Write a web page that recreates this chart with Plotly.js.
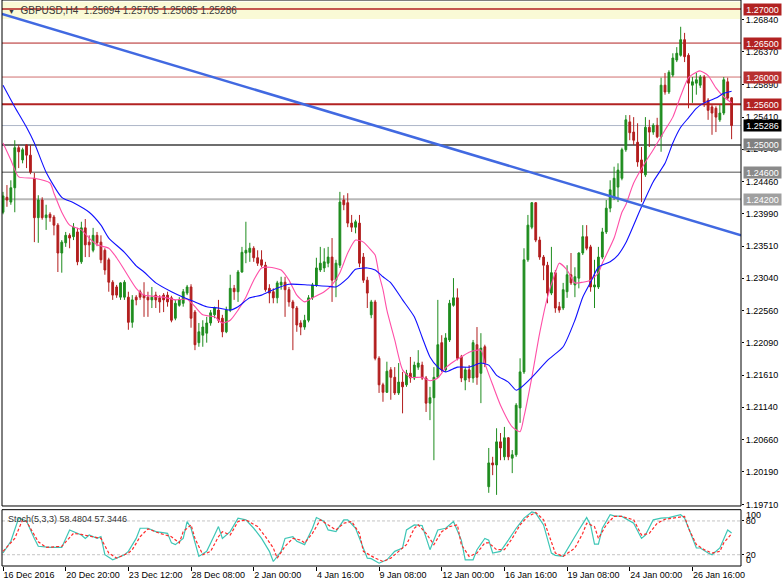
<!DOCTYPE html>
<html><head><meta charset="utf-8">
<script src="https://cdn.plot.ly/plotly-3.0.1.min.js"></script>
<style>html,body{margin:0;padding:0;background:#fff;overflow:hidden}#chart{width:782px;height:587px}</style>
</head><body><div id="chart"></div>
<script>
// ---------- DATA (GBPUSD, H4) ----------
const openP = [
1.2401,1.2423,1.2416,1.2437,1.2496,1.2478,1.2500,1.2485,1.2451,1.2393,
1.2419,1.2393,1.2398,1.2394,1.2382,1.2341,1.2356,1.2367,1.2365,1.2372,
1.2328,1.2378,1.2357,1.2345,1.2367,1.2357,1.2345,1.2331,1.2298,1.2291,
1.2276,1.2276,1.2276,1.2239,1.2276,1.2284,1.2279,1.2276,1.2272,1.2279,
1.2275,1.2279,1.2279,1.2275,1.2245,1.2264,1.2267,1.2282,1.2291,1.2254,
1.2209,1.2220,1.2223,1.2238,1.2250,1.2257,1.2245,1.2225,1.2257,1.2289,
1.2284,1.2313,1.2341,1.2342,1.2348,1.2334,1.2331,1.2323,1.2289,1.2284,
1.2275,1.2294,1.2298,1.2287,1.2269,1.2260,1.2238,1.2232,1.2242,1.2275,
1.2294,1.2316,1.2319,1.2326,1.2335,1.2301,1.2323,1.2419,1.2415,1.2385,
1.2379,1.2385,1.2335,1.2301,1.2250,1.2269,1.2186,1.2147,1.2136,1.2169,
1.2158,1.2135,1.2151,1.2147,1.2164,1.2157,1.2173,1.2176,1.2157,1.2120,
1.2128,1.2158,1.2209,1.2169,1.2213,1.2264,1.2275,1.2188,1.2154,1.2169,
1.2157,1.2206,1.2164,1.2203,1.1997,1.2032,1.2029,1.2063,1.2041,1.2069,
1.2039,1.2044,1.2113,1.2166,1.2331,1.2379,1.2415,1.2360,1.2335,1.2323,
1.2282,1.2312,1.2262,1.2260,1.2284,1.2309,1.2294,1.2304,1.2341,1.2365,
1.2350,1.2291,1.2291,1.2335,1.2372,1.2407,1.2423,1.2438,1.2451,1.2493,
1.2534,1.2519,1.2504,1.2478,1.2456,1.2526,1.2519,1.2529,1.2512,1.2588,
1.2578,1.2603,1.2625,1.2632,1.2655,1.2632,1.2588,1.2591,1.2588,1.2600,
1.2566,1.2556,1.2554,1.2537,1.2547,1.2593,1.25694];
const highP = [
1.2431,1.2441,1.2448,1.2507,1.2500,1.2496,1.2501,1.2500,1.2459,1.2426,
1.2423,1.2412,1.2401,1.2397,1.2385,1.2360,1.2372,1.2370,1.2385,1.2378,
1.2387,1.2391,1.2367,1.2378,1.2372,1.2367,1.2348,1.2334,1.2301,1.2294,
1.2298,1.2301,1.2284,1.2279,1.2279,1.2287,1.2298,1.2284,1.2291,1.2284,
1.2279,1.2282,1.2284,1.2278,1.2272,1.2276,1.2288,1.2294,1.2295,1.2257,
1.2238,1.2242,1.2247,1.2257,1.2262,1.2272,1.2250,1.2262,1.2309,1.2294,
1.2316,1.2350,1.2387,1.2356,1.2351,1.2345,1.2345,1.2328,1.2295,1.2289,
1.2300,1.2306,1.2306,1.2291,1.2272,1.2263,1.2242,1.2250,1.2279,1.2297,
1.2334,1.2350,1.2348,1.2350,1.2363,1.2331,1.2431,1.2426,1.2429,1.2397,
1.2390,1.2397,1.2341,1.2306,1.2272,1.2272,1.2189,1.2150,1.2181,1.2173,
1.2173,1.2179,1.2166,1.2169,1.2188,1.2181,1.2198,1.2181,1.2160,1.2144,
1.2173,1.2272,1.2220,1.2223,1.2272,1.2304,1.2289,1.2191,1.2173,1.2176,
1.2213,1.2232,1.2223,1.2206,1.2054,1.2041,1.2083,1.2076,1.2085,1.2070,
1.2051,1.2120,1.2186,1.2348,1.2397,1.2416,1.2416,1.2365,1.2338,1.2328,
1.2350,1.2316,1.2269,1.2297,1.2323,1.2341,1.2320,1.2342,1.2382,1.2382,
1.2353,1.2331,1.2350,1.2378,1.2419,1.2448,1.2468,1.2473,1.2496,1.2544,
1.2544,1.2541,1.2532,1.2497,1.2541,1.2537,1.2532,1.2540,1.2599,1.2606,
1.2610,1.2635,1.2644,1.2674,1.2665,1.2635,1.2600,1.2606,1.2603,1.2603,
1.2569,1.2559,1.2557,1.2559,1.2600,1.2599,1.25705];
const lowP = [
1.2398,1.2409,1.2412,1.2401,1.2466,1.2473,1.2466,1.2457,1.2357,1.2356,
1.2390,1.2375,1.2387,1.2367,1.2313,1.2312,1.2350,1.2348,1.2360,1.2323,
1.2325,1.2335,1.2335,1.2342,1.2351,1.2326,1.2309,1.2284,1.2272,1.2275,
1.2272,1.2272,1.2228,1.2231,1.2264,1.2272,1.2247,1.2247,1.2260,1.2260,
1.2253,1.2254,1.2262,1.2239,1.2242,1.2262,1.2262,1.2279,1.2231,1.2198,
1.2203,1.2203,1.2209,1.2234,1.2245,1.2238,1.2217,1.2223,1.2254,1.2272,
1.2269,1.2312,1.2326,1.2328,1.2328,1.2322,1.2320,1.2284,1.2267,1.2267,
1.2267,1.2287,1.2247,1.2262,1.2198,1.2225,1.2220,1.2228,1.2239,1.2272,
1.2291,1.2313,1.2313,1.2320,1.2269,1.2276,1.2319,1.2404,1.2379,1.2372,
1.2370,1.2320,1.2297,1.2260,1.2245,1.2183,1.2135,1.2122,1.2135,1.2125,
1.2132,1.2132,1.2105,1.2144,1.2150,1.2154,1.2169,1.2154,1.2107,1.2095,
1.2036,1.2157,1.2166,1.2166,1.2210,1.2262,1.2183,1.2151,1.2139,1.2151,
1.2150,1.2147,1.2120,1.2173,1.1988,1.2014,1.1985,1.2036,1.2036,1.2036,
1.2017,1.2041,1.2091,1.2163,1.2328,1.2376,1.2357,1.2331,1.2301,1.2267,
1.2279,1.2253,1.2253,1.2257,1.2275,1.2294,1.2276,1.2289,1.2338,1.2345,
1.2284,1.2260,1.2288,1.2332,1.2369,1.2401,1.2419,1.2416,1.2448,1.2490,
1.2507,1.2500,1.2468,1.2416,1.2453,1.2497,1.2515,1.2510,1.2490,1.2574,
1.2575,1.2600,1.2622,1.2630,1.2622,1.2554,1.2562,1.2574,1.2584,1.2556,
1.2537,1.2515,1.2519,1.2534,1.2544,1.2566,1.25085];
const closeP = [
1.2425,1.2419,1.2437,1.2496,1.2490,1.2493,1.2485,1.2460,1.2393,1.2419,
1.2393,1.2397,1.2393,1.2382,1.2341,1.2357,1.2367,1.2363,1.2379,1.2328,
1.2378,1.2353,1.2353,1.2367,1.2356,1.2331,1.2316,1.2298,1.2279,1.2279,
1.2297,1.2298,1.2239,1.2272,1.2272,1.2276,1.2275,1.2272,1.2276,1.2272,
1.2269,1.2272,1.2269,1.2242,1.2267,1.2272,1.2284,1.2291,1.2245,1.2206,
1.2225,1.2232,1.2238,1.2253,1.2260,1.2242,1.2225,1.2257,1.2289,1.2284,
1.2313,1.2342,1.2345,1.2348,1.2334,1.2326,1.2323,1.2287,1.2282,1.2275,
1.2297,1.2298,1.2287,1.2269,1.2260,1.2235,1.2232,1.2242,1.2275,1.2294,
1.2319,1.2326,1.2328,1.2335,1.2301,1.2326,1.2416,1.2412,1.2385,1.2379,
1.2387,1.2326,1.2301,1.2282,1.2269,1.2186,1.2147,1.2136,1.2167,1.2158,
1.2135,1.2151,1.2144,1.2164,1.2157,1.2176,1.2179,1.2157,1.2120,1.2128,
1.2158,1.2206,1.2169,1.2216,1.2267,1.2275,1.2186,1.2157,1.2169,1.2157,
1.2209,1.2158,1.2201,1.2179,1.2032,1.2029,1.2063,1.2054,1.2069,1.2041,
1.2044,1.2117,1.2166,1.2331,1.2382,1.2415,1.2360,1.2335,1.2323,1.2282,
1.2312,1.2260,1.2257,1.2287,1.2309,1.2297,1.2306,1.2341,1.2365,1.2348,
1.2291,1.2294,1.2335,1.2372,1.2407,1.2434,1.2451,1.2463,1.2493,1.2537,
1.2518,1.2507,1.2475,1.2459,1.2526,1.2519,1.2529,1.2512,1.2588,1.2578,
1.2607,1.2628,1.2635,1.2655,1.2630,1.2591,1.2593,1.2596,1.2600,1.2563,
1.2551,1.2547,1.2541,1.2547,1.2596,1.2569,1.25286];

// Moving averages (bar number, price)
const fastMaBar = [0,2,4,8,12,13,15,17,20,22,24,27,29,31,34,36,41,44,47,49,51,54,56,58,60,62,64,66,68,71,73,75,77,79,82,84,86,88,90,92,94,95,96,97,98,100,102,104,107,109,111,113,115,117,119,122,123,125,127,130,132,133,135,137,139,141,142,144,146,148,150,152,153,154,156,158,159,161,164,166,169,171,173,175,177,178,180,182,184,186];
const fastMa = [1.2503,1.2478,1.2453,1.2451,1.2444,1.2429,1.2401,1.2382,1.2375,1.2363,1.2353,1.2348,1.2334,1.2316,1.2289,1.2279,1.2276,1.2272,1.2273,1.2262,1.2250,1.2247,1.2238,1.2242,1.2257,1.2276,1.2301,1.2319,1.2320,1.2316,1.2301,1.2279,1.2269,1.2275,1.2284,1.2294,1.2312,1.2341,1.2360,1.2357,1.2345,1.2338,1.2309,1.2287,1.2257,1.2213,1.2169,1.2158,1.2158,1.2153,1.2157,1.2172,1.2181,1.2188,1.2195,1.2198,1.2179,1.2147,1.2117,1.2085,1.2078,1.2100,1.2158,1.2223,1.2276,1.2312,1.2326,1.2316,1.2297,1.2298,1.2301,1.2312,1.2326,1.2338,1.2363,1.2401,1.2412,1.2444,1.2475,1.2493,1.2522,1.2541,1.2572,1.2599,1.2607,1.2609,1.2602,1.2584,1.2571,1.2562];
const slowMaBar = [0,3,6,8,11,15,18,22,25,27,31,34,36,39,43,46,49,52,55,58,60,63,66,69,73,78,83,85,88,90,93,95,97,99,102,105,107,109,111,113,116,119,122,124,126,129,131,132,135,139,143,146,148,150,152,155,157,159,163,166,169,171,173,175,177,179,182,184,186];
const slowMa = [1.2588,1.2556,1.2526,1.2503,1.2460,1.2423,1.2415,1.2401,1.2382,1.2363,1.2342,1.2322,1.2313,1.2297,1.2284,1.2276,1.2269,1.2262,1.2260,1.2257,1.2262,1.2275,1.2279,1.2287,1.2295,1.2294,1.2292,1.2291,1.2304,1.2317,1.2319,1.2316,1.2306,1.2297,1.2272,1.2247,1.2217,1.2188,1.2173,1.2166,1.2173,1.2173,1.2179,1.2176,1.2161,1.2151,1.2139,1.2142,1.2158,1.2183,1.2203,1.2242,1.2276,1.2298,1.2320,1.2328,1.2338,1.2356,1.2409,1.2446,1.2473,1.2503,1.2526,1.2540,1.2554,1.2562,1.2569,1.2576,1.2579];

// Stochastic(5,3,3)
const stochKBar = [0,2,4,6,8,9,12,15,17,19,20,21,22,24,25,26,28,31,32,34,35,37,39,42,43,44,46,47,48,50,52,54,55,56,58,60,62,64,66,68,69,71,72,74,75,77,79,80,82,83,85,87,88,90,92,93,94,96,98,100,102,103,105,107,109,111,113,115,117,118,120,121,123,124,125,127,129,131,133,135,136,138,140,141,143,145,147,149,150,151,152,153,155,156,158,161,163,164,166,168,170,173,174,177,178,180,181,183,185,186];
const stochK = [23,44,85,80,49,35,33,33,64,58,55,49,55,49,52,20,11,20,26,49,67,67,61,58,41,38,49,79,67,17,26,55,70,49,61,85,82,67,49,26,8,26,49,52,44,38,67,86,79,64,61,82,82,67,30,14,13,5,11,26,32,64,73,72,29,64,67,79,46,11,11,29,49,46,23,26,46,67,85,96,94,73,23,19,17,41,64,86,73,39,39,67,91,89,88,76,49,55,82,85,86,91,85,32,32,23,20,32,64,58.48];
const stochDBar = [0,3,5,6,9,11,15,18,20,23,25,27,29,32,33,35,37,40,43,45,46,48,49,51,53,55,56,58,60,62,65,67,69,70,72,74,76,77,79,81,83,85,87,89,91,92,95,97,99,101,103,105,106,108,110,112,114,116,117,119,121,123,124,126,128,130,132,134,136,138,140,141,143,146,148,149,151,152,154,156,158,161,163,165,167,169,172,174,175,177,179,181,183,184,186];
const stochD = [26,49,82,79,43,33,35,58,56,52,49,23,14,23,29,52,66,58,52,41,61,73,49,20,26,52,61,55,79,82,70,52,32,14,35,49,46,41,58,82,73,64,76,79,58,26,14,8,14,26,38,67,73,58,38,61,70,73,38,17,23,41,41,29,29,49,73,88,95,82,43,23,17,32,58,76,70,49,73,88,88,82,55,58,76,83,86,88,67,38,29,23,26,41,57.34];

// Axis labels
const xTickBars = [0,16,32,48,64,80,96,112,128,144,160,176];
const xTickLabels = ['16 Dec 2016','20 Dec 20:00','23 Dec 12:00','28 Dec 08:00','2 Jan 00:00','4 Jan 16:00','9 Jan 08:00','12 Jan 00:00','16 Jan 16:00','19 Jan 08:00','24 Jan 00:00','26 Jan 16:00'];
const yTickVals = [1.26840,1.26370,1.25890,1.25410,1.24940,1.24460,1.23990,1.23510,1.23040,1.22560,1.22090,1.21610,1.21140,1.20660,1.20190,1.19710];

// Horizontal levels and the down trend line
const levelPrices = [1.27000,1.26500,1.26000,1.25600,1.25286,1.25000,1.24600,1.24200];
const levelLabels = ['1.27000','1.26500','1.26000','1.25600','1.25286','1.25000','1.24600','1.24200'];
const zoneBand = [1.26854,1.27110];
const trendBar = [-0.26,188.4];
const trendPrice = [1.2693,1.2367];
const titleText = 'GBPUSD,H4  1.25694 1.25705 1.25085 1.25286';
const stochTitle = 'Stoch(5,3,3) 58.4804 57.3446';

// ---------- STYLE ----------
const FONT = "'Liberation Sans', Arial, sans-serif";
const levelStyle = [
  {line:'#B22222', w:1.5, bg:'#B22222'},
  {line:'#B22222', w:1, bg:'#B22222'},
  {line:'#D07070', w:1, bg:'#B83030'},
  {line:'#B22222', w:2, bg:'#B22222'},
  {line:'#AEB6C8', w:1, bg:'#000000'},
  {line:'#6E6E6E', w:2, bg:'#808080'},
  {line:'#8A8A8A', w:1.5, bg:'#8A8A8A'},
  {line:'#B8B8B8', w:2, bg:'#A0A0A0'}
];

const bars = openP.map((_, i) => i);

const traces = [
  {type:'candlestick', x:bars, open:openP, high:highP, low:lowP, close:closeP,
   xaxis:'x', yaxis:'y', whiskerwidth:0, hoverinfo:'skip', showlegend:false,
   increasing:{line:{color:'#1E8C1E', width:1}, fillcolor:'#1E8C1E'},
   decreasing:{line:{color:'#B21E1E', width:1}, fillcolor:'#B21E1E'}},
  {type:'scatter', mode:'lines', x:fastMaBar, y:fastMa, xaxis:'x', yaxis:'y',
   line:{color:'#FF4FA7', width:1.1, shape:'spline', smoothing:0.6}, hoverinfo:'skip', showlegend:false},
  {type:'scatter', mode:'lines', x:slowMaBar, y:slowMa, xaxis:'x', yaxis:'y',
   line:{color:'#1010FF', width:1.1, shape:'spline', smoothing:0.6}, hoverinfo:'skip', showlegend:false},
  {type:'scatter', mode:'lines', x:trendBar, y:trendPrice, xaxis:'x', yaxis:'y',
   line:{color:'#4169E1', width:2.5}, hoverinfo:'skip', showlegend:false},
  {type:'scatter', mode:'lines', x:stochKBar, y:stochK, xaxis:'x', yaxis:'y2',
   line:{color:'#3EC6B6', width:1.2}, hoverinfo:'skip', showlegend:false},
  {type:'scatter', mode:'lines', x:stochDBar, y:stochD, xaxis:'x', yaxis:'y2',
   line:{color:'#FF2A2A', width:1.2, dash:'3px,2px'}, hoverinfo:'skip', showlegend:false}
];

const shapes = [
  {type:'rect', xref:'paper', yref:'y', x0:0, x1:1, y0:zoneBand[0], y1:zoneBand[1],
   fillcolor:'#FAFAD6', line:{width:0}, layer:'below'}
];
levelPrices.forEach((p, k) => {
  shapes.push({type:'line', xref:'paper', yref:'y', x0:0, x1:1, y0:p, y1:p,
    line:{color:levelStyle[k].line, width:levelStyle[k].w}, layer:'below'});
});
[80, 20].forEach(v => shapes.push({type:'line', xref:'paper', yref:'y2', x0:0, x1:1, y0:v, y1:v,
  line:{color:'#C4C4C4', width:1, dash:'3px,2px'}, layer:'below'}));
shapes.push({type:'rect', xref:'paper', yref:'y domain', x0:0, x1:1, y0:0, y1:1, line:{color:'#000', width:1}, layer:'above'});
shapes.push({type:'rect', xref:'paper', yref:'y2 domain', x0:0, x1:1, y0:0, y1:1, line:{color:'#000', width:1}, layer:'above'});

const annotations = [];
levelPrices.forEach((p, k) => {
  annotations.push({xref:'paper', x:1, xanchor:'left', xshift:2, yref:'y', y:p, yanchor:'middle',
    text:levelLabels[k], showarrow:false, bgcolor:levelStyle[k].bg, width:36, height:10, borderpad:0.5,
    font:{family:FONT, size:9, color:'#FFFFFF'}});
});
annotations.push({xref:'paper', x:0, xanchor:'left', xshift:4, yref:'paper', y:1, yanchor:'top', yshift:-3,
  text:'<span style="font-size:7px">▼</span>  ' + titleText, showarrow:false,
  font:{family:FONT, size:10, color:'#3A3A3A'}});
annotations.push({xref:'paper', x:0, xanchor:'left', xshift:4, yref:'y2 domain', y:1, yanchor:'top', yshift:-2,
  text:stochTitle, showarrow:false, font:{family:FONT, size:9, color:'#333333'}});
[['100', 91], ['0', 11]].forEach(([t, v]) => annotations.push({xref:'paper', x:1, xanchor:'left', xshift:3,
  yref:'y2', y:v, yanchor:'middle', text:t, showarrow:false, font:{family:FONT, size:9, color:'#000'}}));

const layout = {
  width:782, height:587,
  margin:{l:2, r:41, t:0, b:21, pad:0},
  paper_bgcolor:'#FFFFFF', plot_bgcolor:'#FFFFFF',
  showlegend:false, boxgap:0.35,
  font:{family:FONT, size:9, color:'#000'},
  xaxis:{anchor:'y2', domain:[0,1], range:[-0.26,188.4], type:'linear',
    tickvals:xTickBars, ticktext:xTickLabels, ticks:'outside', ticklen:4, tickcolor:'#000',
    ticklabelposition:'outside right', tickfont:{family:FONT, size:9, color:'#000'},
    showgrid:false, zeroline:false, showline:false, rangeslider:{visible:false}, fixedrange:true},
  yaxis:{domain:[0.10601,1], range:[1.19686,1.27134], side:'right', anchor:'x',
    tickvals:yTickVals, ticktext:yTickVals.map(v => v.toFixed(5)),
    ticks:'outside', ticklen:2, tickcolor:'#000', tickfont:{family:FONT, size:9, color:'#000'},
    showgrid:false, zeroline:false, showline:false, fixedrange:true},
  yaxis2:{domain:[0,0.0995], range:[0,100], side:'right', anchor:'x',
    tickvals:[80,20], ticktext:['80','20'], ticks:'outside', ticklen:2, tickcolor:'#000',
    tickfont:{family:FONT, size:9, color:'#000'},
    showgrid:false, zeroline:false, showline:false, fixedrange:true},
  shapes:shapes, annotations:annotations
};

Plotly.newPlot('chart', traces, layout, {displayModeBar:false, staticPlot:true});
</script>
</body></html>
